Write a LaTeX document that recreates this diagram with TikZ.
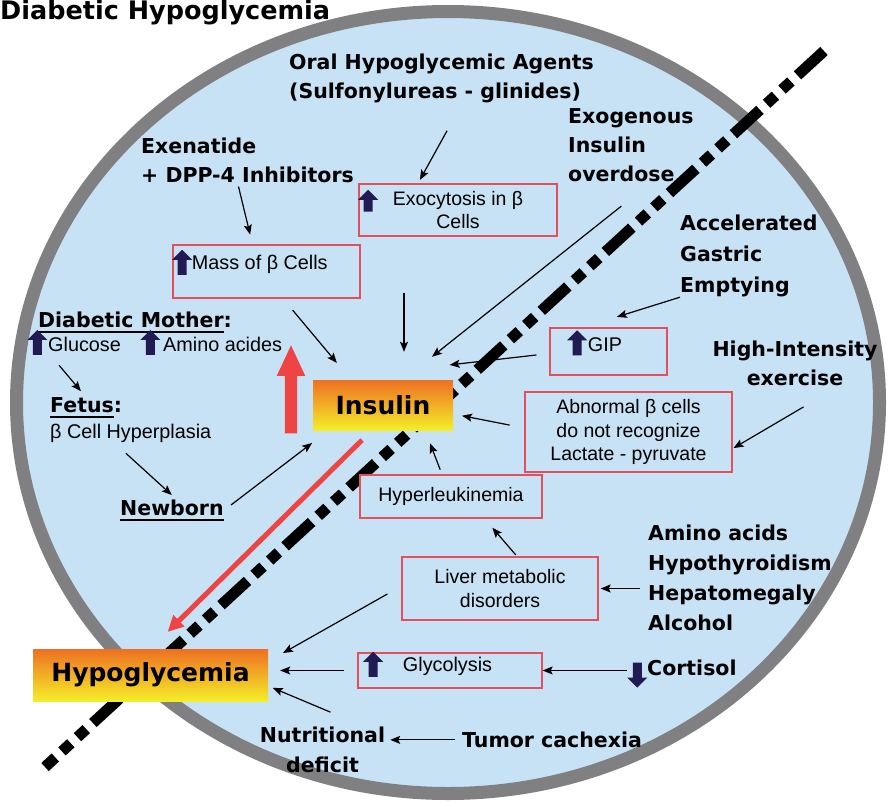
\documentclass[tikz,border=0pt]{standalone}
\usepackage{fontspec}
\setsansfont{Liberation Sans}
\newfontfamily\keyfont{DejaVu Sans}
\usepackage{tikz}
\usetikzlibrary{arrows.meta, positioning, shapes.arrows}
\definecolor{bgBlue}{RGB}{198,226,244}
\definecolor{rimGray}{RGB}{128,128,130}
\definecolor{boxRed}{RGB}{226,80,96}
\definecolor{flowRed}{RGB}{238,68,68}
\definecolor{iconNavy}{RGB}{34,26,82}
\definecolor{glowOrange}{RGB}{238,112,34}
\definecolor{glowYellow}{RGB}{244,238,40}
% thick underline for the key words
\newcommand{\hgul}[1]{\setbox0\hbox{#1}\rlap{\rule[-5.5pt]{\wd0}{2.2pt}}\box0}
\tikzset{
  hg/title/.style={font=\keyfont\bfseries\fontsize{25.5}{30}\selectfont, inner sep=0pt},
  hg/key/.style={font=\keyfont\bfseries\fontsize{20.5}{29}\selectfont,
    inner sep=0pt, align=left},
  hg/txt/.style={font=\sffamily\fontsize{19.8}{23}\selectfont, inner sep=0pt},
  hg/box/.style={rectangle, draw=boxRed, fill=bgBlue, line width=1.3pt,
    inner sep=2pt, font=\sffamily\fontsize{19.5}{23.5}\selectfont, align=center},
  hg/level/.style={rectangle, draw=none, top color=glowOrange,
    bottom color=glowYellow, inner sep=0pt,
    font=\keyfont\bfseries\fontsize{25}{30}\selectfont},
  hg/up/.style={single arrow, draw=none, fill=iconNavy, shape border rotate=90,
    inner sep=4.3pt, single arrow head extend=5.5pt, minimum height=25pt},
  hg/down/.style={hg/up, shape border rotate=270},
  hg/rise/.style={single arrow, draw=none, fill=flowRed, shape border rotate=90,
    inner sep=6pt, single arrow head extend=8pt, single arrow tip angle=50,
    minimum height=88pt},
  hg/arr/.style={-{Stealth[length=10pt,width=8pt,inset=2pt]}, line width=1.2pt,
    draw=black},
  hg/fall/.style={-{Triangle[length=16pt,width=15pt]}, line width=5pt,
    draw=flowRed},
  hg/divide/.style={line width=11pt,
    dash pattern=on 36pt off 9pt on 12pt off 9pt on 12pt off 9pt}
}
\begin{document}
\begin{tikzpicture}[x=1pt, y=-1pt]
  \useasboundingbox (0,0) rectangle (890,802);
  % disc and dividing line
  \draw[draw=rimGray, line width=13pt, fill=bgBlue] (448,402.5)
    ellipse [x radius=431.5pt, y radius=391pt];
  \coordinate (cutTop) at (824,51);
  \coordinate (cutBot) at (45,767);
  \draw[hg/divide] (cutTop) -- (cutBot);

  \node[hg/title, anchor=base west] (title) at (0,20) {Diabetic Hypoglycemia};

  % central states
  \node[hg/rise] (rise) at (291,396) {};
  \node[hg/level, minimum width=140pt, minimum height=50pt] (ins) at (383,405) {Insulin};
  \node[hg/level, minimum width=235pt, minimum height=52pt] (hypo) at (150.5,675) {Hypoglycemia};

  % causes, upper half
  \node[hg/key, anchor=west] (oral) at (289,78) {Oral Hypoglycemic Agents\\(Sulfonylureas - glinides)};
  \node[hg/key, anchor=west] (exog) at (568,145) {Exogenous\\Insulin\\overdose};
  \node[hg/key, anchor=west] (exen) at (141,160) {Exenatide\\+ DPP-4 Inhibitors};
  \node[hg/key, anchor=west, font=\keyfont\bfseries\fontsize{20.5}{31}\selectfont] (accel) at (680,256) {Accelerated\\Gastric\\Emptying};
  \node[hg/key, align=center] (high) at (795,363) {High-Intensity\\exercise};

  \node[hg/box, minimum width=198pt, minimum height=52pt] (exo) at (458,210) {Exocytosis in β\\Cells};
  \node[hg/up, minimum height=22pt, right=5pt of exo.west, yshift=7pt] (exoup) {};
  \node[hg/box, minimum width=187pt, minimum height=53pt] (mass) at (266.5,271.5) {};
  \node[hg/up, right=5pt of mass.west, yshift=7pt] (massup) {};
  \node[hg/txt, right=5pt of massup] (masstxt) {Mass of β Cells};
  \node[hg/box, minimum width=117pt, minimum height=47pt] (gip) at (608.5,351.5) {};
  \node[hg/up, right=23pt of gip.west, yshift=6.5pt] (gipup) {};
  \node[hg/txt, right=6pt of gipup] (giptxt) {GIP};
  \node[hg/box, minimum width=207pt, minimum height=80pt] (abn) at (628.5,432) {Abnormal β cells\\do not recognize\\Lactate - pyruvate};

  % causes, lower half
  \node[hg/box, minimum width=182pt, minimum height=43pt] (hyper) at (451,496.5) {Hyperleukinemia};
  \node[hg/box, minimum width=196pt, minimum height=63pt] (liver) at (500,588.5) {Liver metabolic\\disorders};
  \node[hg/box, minimum width=184pt, minimum height=35pt] (glyc) at (450,670.5) {};
  \node[hg/up, right=11pt of glyc.west, yshift=4pt] (glycup) {};
  \node[hg/txt, right=25pt of glycup] (glyctxt) {Glycolysis};
  \node[hg/key, anchor=west, font=\keyfont\bfseries\fontsize{20.5}{30}\selectfont] (amino) at (648,578) {Amino acids\\Hypothyroidism\\Hepatomegaly\\Alcohol};
  \node[hg/key, anchor=base west] (cort) at (647,675.5) {Cortisol};
  \node[hg/down, left=5pt of cort, yshift=-5pt] (cortdown) {};
  \node[hg/key, anchor=base west] (tumor) at (462,747.5) {Tumor cachexia};
  \node[hg/key, align=center, font=\keyfont\bfseries\fontsize{20.5}{30}\selectfont] (nutr) at (322.5,750) {Nutritional\\deficit};

  % newborn branch
  \node[hg/key, anchor=base west] (mother) at (38,327.5) {\hgul{Diabetic Mother}:};
  \node[hg/txt, anchor=base west] (glucose) at (48,351.8) {Glucose};
  \node[hg/up, left=6pt of glucose] (glucup) {};
  \node[hg/txt, anchor=base west] (aminoa) at (163,351.8) {Amino acides};
  \node[hg/up, left=8pt of aminoa] (aminoup) {};
  \node[hg/key, anchor=base west] (fetus) at (50,412.5) {\hgul{Fetus}:};
  \node[hg/txt, anchor=base west] (hyperpl) at (50,438.8) {β Cell Hyperplasia};
  \node[hg/key, anchor=base west] (newborn) at (120,515.5) {\hgul{Newborn}};

  % connectors
  \draw[hg/arr, shorten <=32pt, shorten >=4pt] ([xshift=21pt]oral.south) -- ([xshift=-40pt]exo.north);
  \draw[hg/arr, shorten <=39pt, shorten >=37pt] ([xshift=21pt]exog.south) -- ([xshift=20pt]ins.north);
  \draw[hg/arr, shorten <=56pt, shorten >=28pt] ([xshift=-54pt]exo.south) -- ([xshift=21pt]ins.north);
  \draw[hg/arr, shorten <=15pt, shorten >=22pt] ([xshift=16.5pt]mass.south) -- ([xshift=-32pt]ins.north);
  \draw[hg/arr, shorten <=4pt, shorten >=10pt] ([xshift=-10pt]exen.south) -- ([xshift=-14pt]mass.north);
  \draw[hg/arr, shorten >=35pt] (accel.south west) -- ([xshift=-25pt]gip.north);
  \draw[hg/arr, shorten <=13pt, shorten >=131pt] ([yshift=-2pt]gip.west) -- ([xshift=-63.5pt]ins.north);
  \draw[hg/arr, shorten <=42pt, shorten >=1pt] ([xshift=44.7pt]high.south) -- ([yshift=-16.6pt]abn.east);
  \draw[hg/arr, shorten <=15pt, shorten >=9pt] ([yshift=4pt]abn.west) -- ([yshift=-9pt]ins.east);
  \draw[hg/arr, shorten <=5pt, shorten >=14pt] ([xshift=-9pt]hyper.north) -- ([xshift=42pt]ins.south);
  \draw[hg/arr, shorten <=2pt, shorten >=12pt] ([xshift=17pt]liver.north) -- ([xshift=33.5pt]hyper.south);
  \draw[hg/arr, shorten <=8pt, shorten >=2pt] (amino.west |- liver.east) -- (liver.east);
  \draw[hg/arr, shorten <=16pt, shorten >=17pt] ([yshift=2.4pt]liver.west) -- ([yshift=13.6pt]hypo.east);
  \draw[hg/arr, shorten <=13pt, shorten >=12pt] (glyc.west) -- (glyc.west -| hypo.east);
  \draw[hg/arr, shorten <=6pt] (glyc.east -| cortdown.west) -- (glyc.east);
  \draw[hg/arr, shorten <=38pt, shorten >=5pt] ([xshift=43pt]nutr.north) -- ([yshift=-11pt]hypo.east);
  \draw[hg/arr, shorten <=7pt, shorten >=5pt] (tumor.west) -- (tumor.west -| nutr.east);
  \draw[hg/arr, shorten <=17pt, shorten >=8pt] (glucose.south west) -- (fetus.north);
  \draw[hg/arr, shorten <=15pt, shorten >=7pt] ([xshift=-16pt]hyperpl.south) -- ([xshift=5pt]newborn.north);
  \draw[hg/arr, shorten <=9pt, shorten >=21pt] (newborn.east) -- ([xshift=16pt]ins.south west);
  \draw[hg/fall, shorten <=14pt, shorten >=24pt] ([xshift=-11pt]ins.south) -- (hypo.north);
\end{tikzpicture}
\end{document}
